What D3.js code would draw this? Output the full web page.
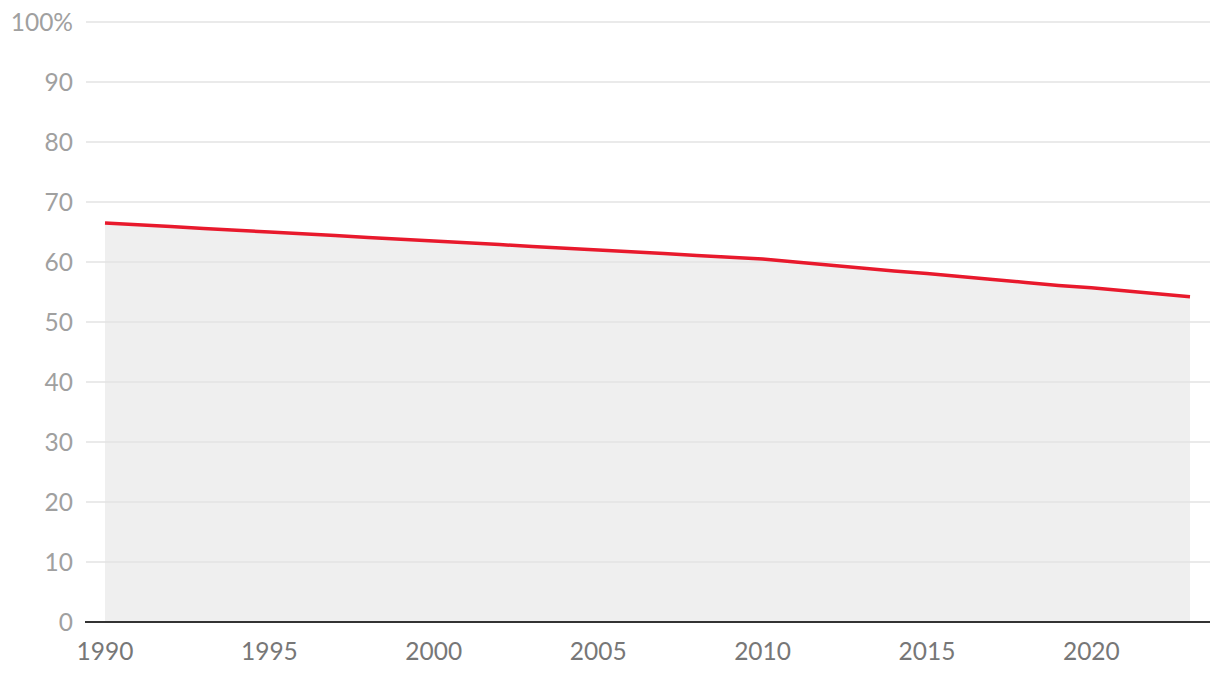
<!DOCTYPE html>
<html><head><meta charset="utf-8">
<script src="https://cdn.jsdelivr.net/npm/d3@7"></script>
<style>body{margin:0;background:#fff}svg{display:block}text{font-family:Lato,"Open Sans",sans-serif}</style>
</head><body>
<svg id="c" width="1220" height="674"></svg>
<script>
const years = [1990,1991,1992,1993,1994,1995,1996,1997,1998,1999,2000,2001,2002,2003,2004,2005,2006,2007,2008,2009,2010,2011,2012,2013,2014,2015,2016,2017,2018,2019,2020,2021,2022,2023];
const values = [66.5,66.2,65.9,65.6,65.3,65.0,64.7,64.4,64.1,63.8,63.5,63.2,62.9,62.6,62.3,62.0,61.7,61.4,61.1,60.8,60.5,60.0,59.5,59.0,58.5,58.1,57.6,57.1,56.6,56.1,55.7,55.2,54.7,54.2];
const yTicks = [0,10,20,30,40,50,60,70,80,90,100];
const xTicks = [1990,1995,2000,2005,2010,2015,2020];

const svg = d3.select("#c");
const x = d3.scaleLinear().domain([1990,2023]).range([105,1190]);
const y = d3.scaleLinear().domain([0,100]).range([622,22]);
const data = years.map((d,i)=>({year:d,value:values[i]}));

// area
svg.append("path").datum(data)
  .attr("d",d3.area().x(d=>x(d.year)).y0(y(0)).y1(d=>y(d.value)))
  .attr("fill","#efefef");

// gridlines
svg.append("g").selectAll("line").data(yTicks.filter(d=>d>0)).join("line")
  .attr("x1",86).attr("x2",1210).attr("y1",d=>y(d)).attr("y2",d=>y(d))
  .attr("stroke","#e3e3e3").attr("stroke-width",1.5);

// baseline
svg.append("line").attr("x1",85).attr("x2",1210).attr("y1",y(0)).attr("y2",y(0))
  .attr("stroke","#333").attr("stroke-width",2);

// line
svg.append("path").datum(data)
  .attr("d",d3.line().x(d=>x(d.year)).y(d=>y(d.value)))
  .attr("fill","none").attr("stroke","#e8192c").attr("stroke-width",3.5)
  .attr("stroke-linejoin","round");

// y labels
svg.append("g").selectAll("text").data(yTicks).join("text")
  .attr("x",73).attr("y",d=>y(d)).attr("dy","0.36em")
  .attr("text-anchor","end").attr("fill","#a0a0a0").attr("font-size",24.5)
  .text(d=>d===100?"100%":d);

// x labels
svg.append("g").selectAll("text").data(xTicks).join("text")
  .attr("x",d=>x(d)).attr("y",651).attr("dy","0.36em")
  .attr("text-anchor","middle").attr("fill","#777").attr("font-size",24.5)
  .text(d=>d);
</script>
</body></html>
